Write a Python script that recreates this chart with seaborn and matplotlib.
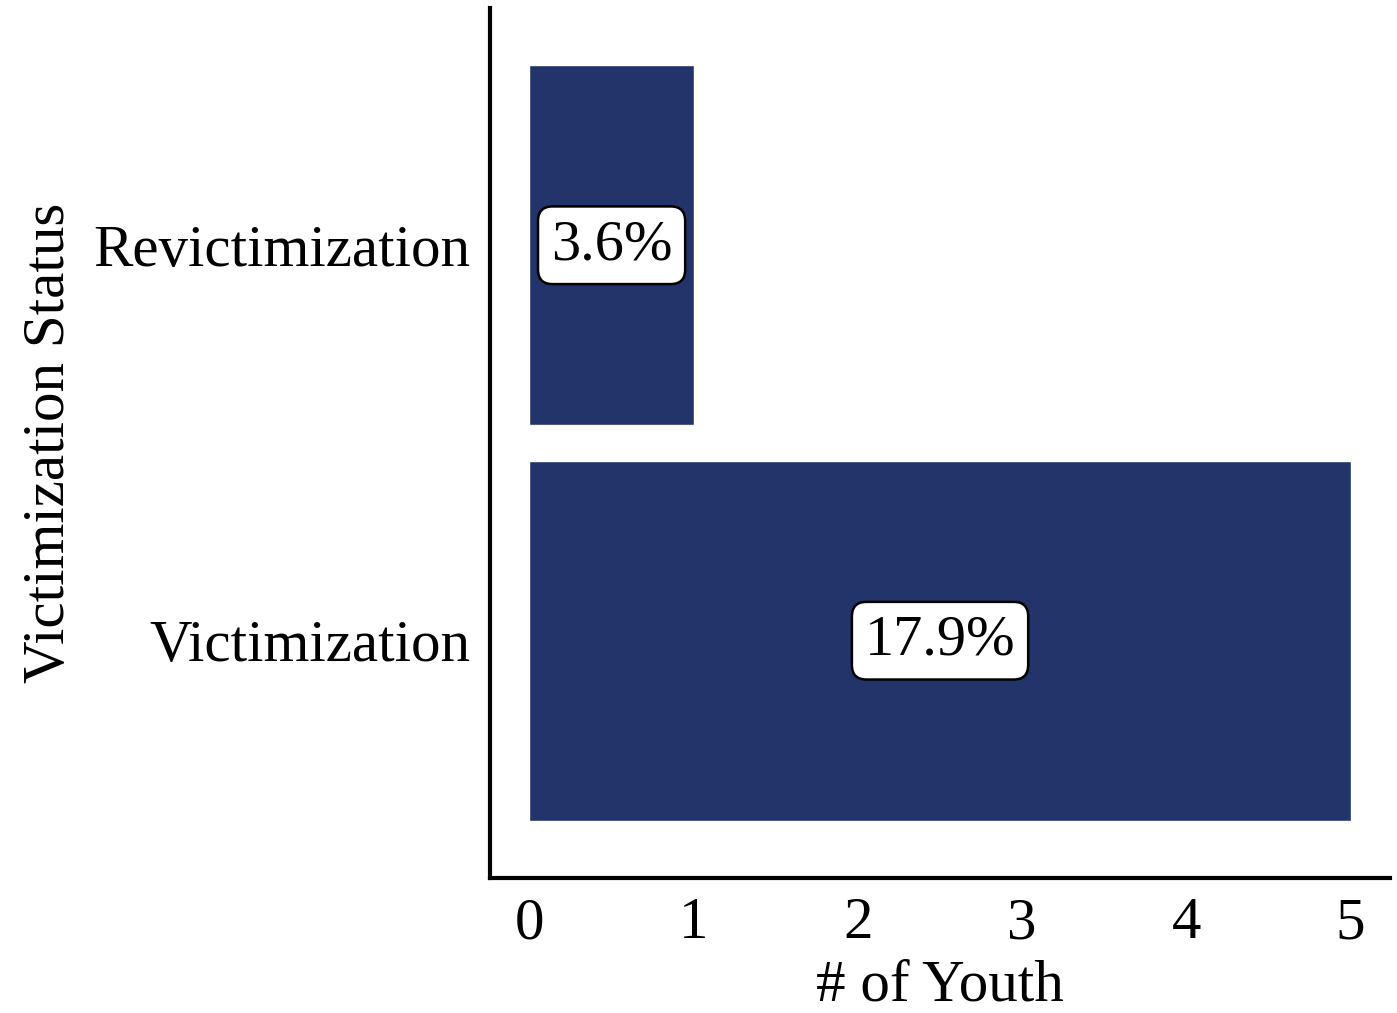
import matplotlib
matplotlib.use("Agg")
import matplotlib.pyplot as plt
import seaborn as sns
import pandas as pd

statuses = ["Revictimization", "Victimization"]
youth_counts = [1, 5]
pct_labels = ["3.6%", "17.9%"]

sns.set_theme(style="white")
plt.rcParams["font.family"] = ["Liberation Serif", "DejaVu Serif"]

df = pd.DataFrame({"status": statuses, "count": youth_counts})

fig = plt.figure(figsize=(13.97, 10.13), dpi=100)
ax = fig.add_axes([0.3508, 0.1333, 0.6442, 0.8588])

sns.barplot(data=df, x="count", y="status", order=statuses, orient="h",
            color="#22346A", saturation=1, width=0.91, ax=ax)

for i, (v, lab) in enumerate(zip(youth_counts, pct_labels)):
    ax.text(v / 2, i, lab, ha="center", va="center", fontsize=42, color="black",
            bbox=dict(boxstyle="round,pad=0.22,rounding_size=0.25", fc="white",
                      ec="black", lw=1.8))

ax.set_xlim(-0.24, 5.24)
ax.set_ylim(1.6, -0.6)
ax.set_xticks(range(0, 6))
ax.tick_params(axis="both", length=0, labelsize=42.5, colors="black", pad=14)
ax.set_xlabel("# of Youth", fontsize=42.5, color="black", labelpad=6)
ax.set_ylabel("Victimization Status", fontsize=42.5, color="black", labelpad=12)

for side in ["top", "right"]:
    ax.spines[side].set_visible(False)
for side in ["left", "bottom"]:
    ax.spines[side].set_color("black")
    ax.spines[side].set_linewidth(3)

fig.savefig("out.png", dpi=100, facecolor="white")
